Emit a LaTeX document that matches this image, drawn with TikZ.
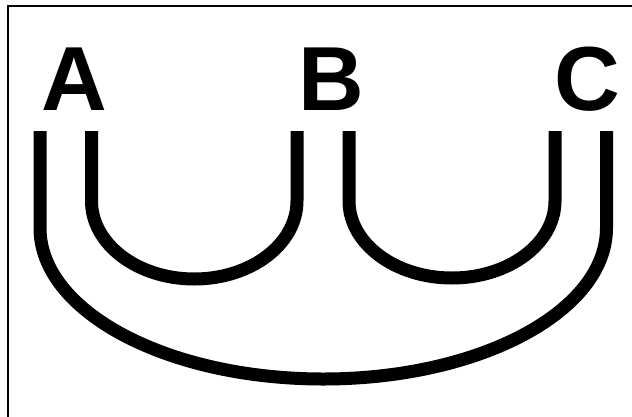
\documentclass[tikz,border=0pt]{standalone}
\usepackage{fontspec}
\setmainfont{Liberation Sans}
\begin{document}
\begin{tikzpicture}[x=1pt,y=-1pt,
  lbl/.style={font=\fontsize{91}{91}\selectfont\bfseries, inner sep=0pt, anchor=base},
  link/.style={line width=13pt, line cap=butt}]
\useasboundingbox (0,0) rectangle (632,416);
\draw[line width=2.2pt] (8,430) |- (640,6);
\node[lbl] (A) at (74,110) {A};
\node[lbl] (B) at (331,110) {B};
\node[lbl] (C) at (587,110) {C};
\coordinate (a1) at (40,131);
\coordinate (a2) at (91.5,131);
\coordinate (b1) at (297,131);
\coordinate (b2) at (349,131);
\coordinate (c1) at (555,131);
\coordinate (c2) at (606.5,131);
\draw[link] (a2) -- ++(0,70) arc[start angle=180, end angle=0, x radius=102.75, y radius=78] -- (b1);
\draw[link] (b2) -- ++(0,70) arc[start angle=180, end angle=0, x radius=103, y radius=77] -- (c1);
\draw[link] (a1) -- ++(0,97) arc[start angle=180, end angle=0, x radius=283.25, y radius=151] -- (c2);
\end{tikzpicture}
\end{document}
